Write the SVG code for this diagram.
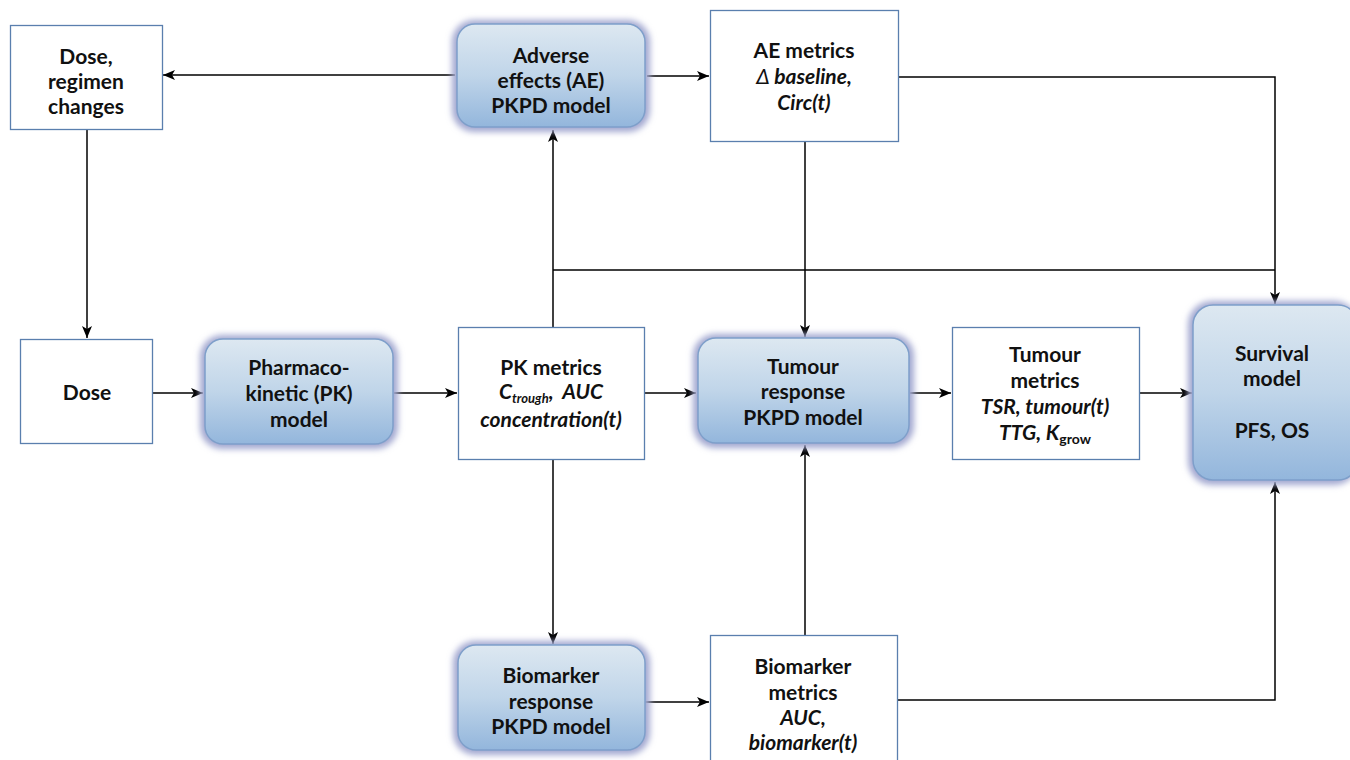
<svg xmlns="http://www.w3.org/2000/svg" width="1350" height="760" viewBox="0 0 1350 760">
<defs>
<linearGradient id="g" x1="0" y1="0" x2="0" y2="1">
<stop offset="0" stop-color="#dde8f1"/>
<stop offset="0.5" stop-color="#c0d5e9"/>
<stop offset="1" stop-color="#93b6dc"/>
</linearGradient>
<filter id="glow" x="-20%" y="-20%" width="140%" height="140%">
<feGaussianBlur stdDeviation="3"/>
</filter>
<marker id="ah" viewBox="0 0 12 10" refX="12" refY="5" markerWidth="12" markerHeight="10" markerUnits="userSpaceOnUse" orient="auto">
<path d="M0,0 L12,5 L0,10 L3,5 Z" fill="#000"/>
</marker>
</defs>
<style>
.box{fill:#fff;stroke:#5a7fae;stroke-width:1.3}
.glow{fill:#a3a8d0;filter:url(#glow)}
.rbox{fill:url(#g);stroke:#7e9fca;stroke-width:1.5}
text{font-family:Lato,"Open Sans","Liberation Sans",sans-serif;font-weight:bold;font-size:21px;text-anchor:middle;fill:#111}
.it{font-style:italic}
.c{fill:none;stroke:#000;stroke-width:1.5}
.ca{fill:none;stroke:#000;stroke-width:1.5;marker-end:url(#ah)}
</style>
<rect width="1350" height="760" fill="#fff"/>

<g id="connectors">
<path class="ca" d="M455,75 H163"/>
<path class="ca" d="M647,76 H709"/>
<path class="ca" d="M87,130 V338"/>
<path class="ca" d="M153,393 H203"/>
<path class="ca" d="M394,393 H457"/>
<path class="ca" d="M553,327 V130"/>
<path class="c" d="M553,270 H1275"/>
<path class="ca" d="M898,77 H1275 V304"/>
<path class="ca" d="M805,141 V337"/>
<path class="ca" d="M644,393 H696"/>
<path class="ca" d="M910,393 H951"/>
<path class="ca" d="M1139,393 H1192"/>
<path class="ca" d="M553,459 V644"/>
<path class="ca" d="M645,702 H709"/>
<path class="ca" d="M805,635 V445"/>
<path class="ca" d="M897,700 H1275 V482"/>
</g>

<g id="dose-regimen">
<rect class="box" x="10.5" y="25.5" width="152" height="104"/>
<text x="86" y="64">Dose,</text>
<text x="86" y="89">regimen</text>
<text x="86" y="114">changes</text>
</g>

<g id="ae-model">
<rect class="glow" x="452" y="20" width="198" height="112" rx="22"/>
<rect class="rbox" x="457" y="24" width="188" height="103" rx="18"/>
<text x="551" y="63">Adverse</text>
<text x="551" y="88">effects (AE)</text>
<text x="551" y="113">PKPD model</text>
</g>

<g id="ae-metrics">
<rect class="box" x="710.5" y="10.5" width="188" height="131"/>
<text x="804" y="58">AE metrics</text>
<text x="804" y="84" class="it"><tspan font-weight="normal">Δ</tspan> baseline,</text>
<text x="804" y="110" class="it">Circ(t)</text>
</g>

<g id="dose">
<rect class="box" x="20.5" y="339.5" width="132" height="104"/>
<text x="87" y="400">Dose</text>
</g>

<g id="pk-model">
<rect class="glow" x="200" y="335" width="198" height="114" rx="22"/>
<rect class="rbox" x="205" y="339" width="188" height="105" rx="18"/>
<text x="299" y="375">Pharmaco-</text>
<text x="299" y="401">kinetic (PK)</text>
<text x="299" y="427">model</text>
</g>

<g id="pk-metrics">
<rect class="box" x="458.5" y="327.5" width="186" height="132"/>
<text x="551" y="375">PK metrics</text>
<text x="551" y="399" class="it" xml:space="preserve">C<tspan font-size="13" dy="4">trough</tspan><tspan dy="-4">,  AUC</tspan></text>
<text x="551" y="427" class="it">concentration(t)</text>
</g>

<g id="tumour-model">
<rect class="glow" x="693" y="334" width="221" height="114" rx="22"/>
<rect class="rbox" x="698" y="338" width="211" height="105" rx="18"/>
<text x="803" y="374">Tumour</text>
<text x="803" y="399">response</text>
<text x="803" y="425">PKPD model</text>
</g>

<g id="tumour-metrics">
<rect class="box" x="952.5" y="327.5" width="187" height="132"/>
<text x="1045" y="362">Tumour</text>
<text x="1045" y="388">metrics</text>
<text x="1045" y="414" class="it">TSR, tumour(t)</text>
<text x="1045" y="440" class="it">TTG, K<tspan font-size="14" font-style="normal" dy="4">grow</tspan></text>
</g>

<g id="survival">
<rect class="glow" x="1188" y="301" width="170" height="184" rx="24"/>
<rect class="rbox" x="1193" y="305" width="165" height="175" rx="20"/>
<text x="1272" y="361">Survival</text>
<text x="1272" y="386">model</text>
<text x="1272" y="438">PFS, OS</text>
</g>

<g id="biomarker-model">
<rect class="glow" x="453" y="641" width="197" height="114" rx="22"/>
<rect class="rbox" x="458" y="645" width="187" height="105" rx="18"/>
<text x="551" y="683">Biomarker</text>
<text x="551" y="709">response</text>
<text x="551" y="734">PKPD model</text>
</g>

<g id="biomarker-metrics">
<rect class="box" x="710.5" y="635.5" width="187" height="130"/>
<text x="803" y="674">Biomarker</text>
<text x="803" y="700">metrics</text>
<text x="803" y="725" class="it">AUC,</text>
<text x="803" y="750" class="it">biomarker(t)</text>
</g>
</svg>
